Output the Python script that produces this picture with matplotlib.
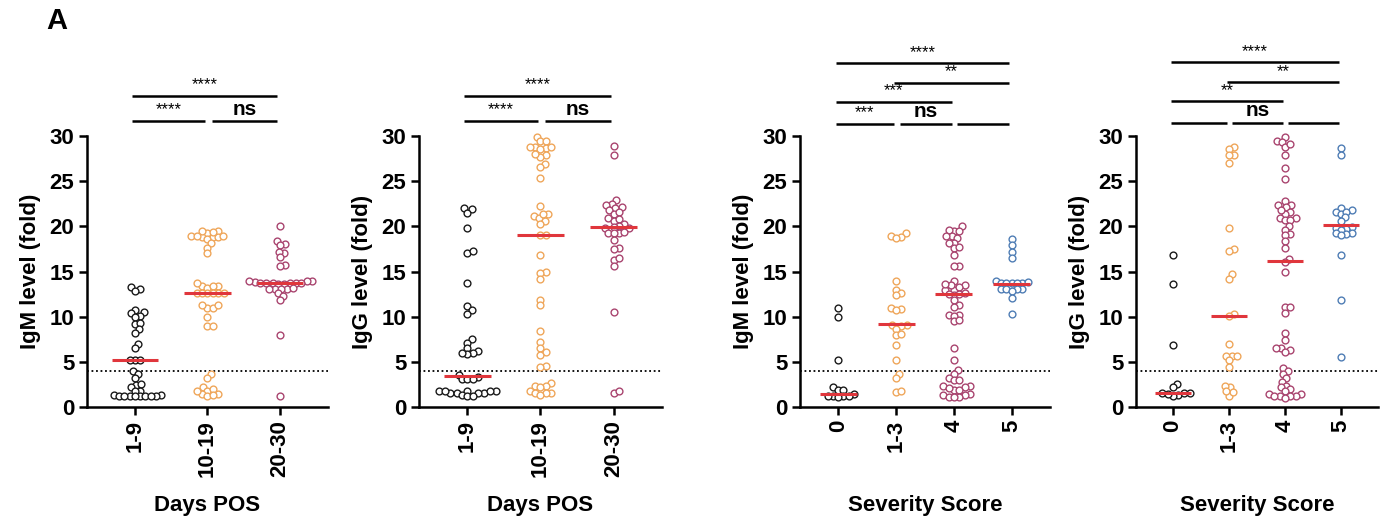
import numpy as np
import matplotlib
matplotlib.use("Agg")
import matplotlib.pyplot as plt

plt.rcParams['font.family'] = ['Liberation Sans', 'DejaVu Sans']

# ---- data ----
days_groups = ["1-9", "10-19", "20-30"]
sev_groups = ["0", "1-3", "4", "5"]

igm_days_1_9 = [13.1, 13.3, 12.9, 10.8, 10.5, 10.1, 10.4, 10.0, 9.2, 9.3, 8.6, 8.2, 7.0, 6.5,
                5.2, 5.2, 5.2, 4.0, 3.7, 3.2, 2.5, 2.6, 2.2, 1.8, 1.8, 1.2, 1.4, 1.3, 1.4, 1.2,
                1.3, 1.2, 1.2, 1.2, 1.3]
igm_days_10_19 = [19.5, 19.3, 18.8, 18.8, 18.8, 19.5, 18.9, 18.9, 18.9, 19.4, 18.6, 18.1, 17.6, 17.0,
                  13.4, 13.2, 13.4, 13.7, 13.4, 12.6, 12.6, 12.6, 12.6, 12.6, 12.6, 11.0, 11.0, 11.3,
                  11.3, 10.0, 9.0, 9.0, 3.7, 3.2, 2.2, 1.8, 1.5, 1.8, 1.2, 1.5, 2.0, 1.4]
igm_days_20_30 = [20.0, 18.4, 18.0, 17.9, 17.0, 17.2, 16.6, 15.7, 15.6, 14.0, 13.7, 13.8, 13.9, 13.7,
                  13.7, 13.7, 13.6, 14.0, 13.7, 13.6, 13.7, 13.1, 13.1, 13.1, 13.2, 13.1, 12.6, 12.3,
                  11.8, 8.0, 1.3]

igg_days_1_9 = [21.9, 22.0, 21.5, 19.8, 17.0, 17.3, 13.7, 11.2, 10.7, 10.3, 7.5, 7.1, 6.5, 6.2, 6.0,
                5.9, 6.0, 3.6, 3.4, 3.1, 3.1, 3.1, 1.8, 1.6, 1.8, 1.6, 1.8, 1.6, 1.6, 1.8, 1.8, 1.4,
                1.2, 1.3]
igg_days_10_19 = [29.9, 29.4, 29.4, 28.8, 28.6, 28.8, 28.8, 28.5, 27.9, 27.7, 28.0, 26.9, 26.5, 25.3,
                  22.2, 21.4, 21.1, 20.9, 21.4, 20.6, 20.2, 19.0, 19.0, 16.8, 15.0, 14.8, 14.2, 11.9,
                  11.3, 8.4, 7.2, 6.6, 6.1, 5.8, 4.6, 4.4, 2.7, 2.4, 2.4, 2.2, 1.6, 1.8, 1.6, 1.6, 1.4]
igg_days_20_30 = [28.9, 27.9, 22.9, 22.1, 22.5, 22.3, 22.0, 21.8, 21.4, 21.6, 20.9, 20.6, 20.8, 20.2,
                  20.0, 19.8, 19.8, 19.9, 19.3, 19.3, 19.3, 19.4, 18.5, 17.6, 17.5, 16.3, 16.5, 15.6,
                  10.5, 1.6, 1.8]

igm_sev_0 = [11.0, 10.0, 5.2, 2.2, 1.9, 1.9, 1.3, 1.5, 1.3, 1.3, 1.1, 1.3]
igm_sev_1_3 = [19.2, 18.9, 18.8, 18.7, 14.0, 13.0, 12.6, 12.4, 11.0, 10.9, 10.7, 9.1, 9.1, 9.0, 8.7,
               8.0, 8.1, 6.9, 5.2, 3.7, 3.2, 1.7, 1.8]
igm_sev_4 = [20.0, 19.5, 19.5, 19.6, 18.9, 18.7, 18.9, 18.2, 18.2, 17.6, 17.7, 16.8, 15.6, 15.6,
             14.0, 13.5, 13.0, 13.5, 13.3, 13.0, 13.6, 12.4, 12.5, 12.5, 12.6, 11.8, 11.3, 11.1,
             10.2, 10.2, 10.1, 9.5, 9.6, 6.5, 5.2, 4.1, 3.7, 3.2, 3.0, 3.0, 2.4, 2.4, 2.2, 1.9,
             1.9, 2.1, 1.5, 1.4, 1.4, 1.1, 1.1, 1.1]
igm_sev_5 = [18.6, 17.9, 17.2, 16.5, 13.7, 13.7, 13.9, 13.7, 13.7, 13.7, 13.8, 13.1, 13.1, 13.1,
             13.1, 12.8, 12.1, 10.3]

igg_sev_0 = [16.8, 13.6, 6.9, 2.6, 2.2, 1.4, 1.6, 1.6, 1.6, 1.3, 1.5]
igg_sev_1_3 = [28.7, 28.5, 27.9, 27.9, 27.0, 19.8, 17.5, 17.3, 14.7, 14.2, 10.3, 10.1, 7.0, 5.7, 5.7,
               5.2, 5.7, 4.5, 2.2, 2.4, 1.3, 1.7, 1.8]
igg_sev_4 = [29.9, 29.4, 29.3, 28.8, 29.1, 27.9, 26.4, 25.2, 22.8, 22.3, 22.1, 22.3, 21.6, 21.4,
             21.8, 20.9, 20.9, 20.7, 20.7, 20.0, 19.6, 19.1, 19.0, 18.4, 17.6, 16.4, 16.0, 14.9,
             11.1, 11.1, 10.4, 8.2, 7.4, 6.5, 6.3, 6.6, 6.1, 4.3, 4.0, 3.7, 3.2, 2.8, 2.4, 2.2,
             2.0, 1.8, 1.5, 1.5, 1.3, 1.3, 1.3, 1.3, 1.0]
igg_sev_5 = [28.6, 27.9, 22.0, 21.6, 21.8, 21.4, 21.6, 21.0, 20.6, 19.9, 19.7, 19.8, 19.6, 19.2,
             19.2, 19.1, 19.0, 16.8, 11.8, 5.6]

igm_days_median = [5.2, 12.6, 13.7]
igg_days_median = [3.5, 19.0, 19.9]
igm_sev_median = [1.5, 9.2, 12.5, 13.6]
igg_sev_median = [1.6, 10.1, 16.2, 20.1]

cutoff = 4

# comparisons: (group i, group j, label, bracket level)
cmp_days_igm = [(0, 1, "****", 31.6), (1, 2, "ns", 31.6), (0, 2, "****", 34.4)]
cmp_days_igg = [(0, 1, "****", 31.6), (1, 2, "ns", 31.6), (0, 2, "****", 34.4)]
cmp_sev_igm = [(0, 1, "***", 31.3), (1, 2, "ns", 31.3), (2, 3, "", 31.3),
               (0, 2, "***", 33.7), (1, 3, "**", 35.8), (0, 3, "****", 38.0)]
cmp_sev_igg = [(0, 1, "", 31.4), (1, 2, "ns", 31.4), (2, 3, "", 31.4),
               (0, 2, "**", 33.8), (1, 3, "**", 35.9), (0, 3, "****", 38.1)]

black = "#1a1a1a"
orange = "#EFA65A"
purple = "#A9456F"
blue = "#4F7DB5"
red = "#E0363C"

panels = [
    dict(rect=[0.0628, 0.2137, 0.174, 0.5243], groups=days_groups,
         data=[igm_days_1_9, igm_days_10_19, igm_days_20_30], med=igm_days_median,
         colors=[black, orange, purple], ylabel="IgM level (fold)", xlabel="Days POS",
         cmp=cmp_days_igm),
    dict(rect=[0.3025, 0.2137, 0.1755, 0.5243], groups=days_groups,
         data=[igg_days_1_9, igg_days_10_19, igg_days_20_30], med=igg_days_median,
         colors=[black, orange, purple], ylabel="IgG level (fold)", xlabel="Days POS",
         cmp=cmp_days_igg),
    dict(rect=[0.5776, 0.2137, 0.1805, 0.5243], groups=sev_groups,
         data=[igm_sev_0, igm_sev_1_3, igm_sev_4, igm_sev_5], med=igm_sev_median,
         colors=[black, orange, purple, blue], ylabel="IgM level (fold)", xlabel="Severity Score",
         cmp=cmp_sev_igm),
    dict(rect=[0.8202, 0.2137, 0.1748, 0.5243], groups=sev_groups,
         data=[igg_sev_0, igg_sev_1_3, igg_sev_4, igg_sev_5], med=igg_sev_median,
         colors=[black, orange, purple, blue], ylabel="IgG level (fold)", xlabel="Severity Score",
         cmp=cmp_sev_igg),
]


def swarm_x(ax, xpos, vals, d):
    # simple beeswarm in pixel space
    tr = ax.transData
    pts = tr.transform(np.column_stack([np.full(len(vals), xpos), vals]))
    xc = pts[0, 0]
    ys = pts[:, 1]
    offs = np.zeros(len(vals))
    placed = []
    cands = [0.0]
    for s in range(1, 80):
        cands += [s * d * 0.2, -s * d * 0.2]
    for k in np.argsort(ys):
        for c in cands:
            ok = True
            for (px, py) in placed:
                if (px - c) ** 2 + (py - ys[k]) ** 2 < d ** 2:
                    ok = False
                    break
            if ok:
                offs[k] = c
                placed.append((c, ys[k]))
                break
    inv = tr.inverted()
    return inv.transform(np.column_stack([xc + offs, ys]))[:, 0]


fig = plt.figure(figsize=(13.85, 5.18), dpi=100)

for p in panels:
    ax = fig.add_axes(p["rect"])
    n = len(p["groups"])
    ax.set_xlim(-0.66, n - 1 + 0.66)
    ax.set_ylim(0, 30)
    for i, vals in enumerate(p["data"]):
        xs = swarm_x(ax, i, vals, 5.3)
        ax.scatter(xs, vals, s=24, facecolors="white", edgecolors=p["colors"][i],
                   linewidths=1.0, zorder=3, clip_on=False)
        ax.plot([i - 0.32, i + 0.32], [p["med"][i], p["med"][i]], color=red, lw=2.2,
                zorder=4, solid_capstyle="butt")
    ax.axhline(cutoff, color="black", ls=(0, (1, 1.5)), lw=1.3, zorder=2)

    for sp in ["top", "right"]:
        ax.spines[sp].set_visible(False)
    for sp in ["left", "bottom"]:
        ax.spines[sp].set_linewidth(1.8)
    ax.set_yticks([0, 5, 10, 15, 20, 25, 30])
    ax.set_xticks(range(n))
    ax.set_xticklabels(p["groups"], rotation=90)
    ax.tick_params(axis="both", width=1.8, length=6, labelsize=16, pad=3)
    for t in ax.get_xticklabels() + ax.get_yticklabels():
        t.set_fontweight("bold")
    ax.set_ylabel(p["ylabel"], fontsize=16, fontweight="bold", labelpad=6)
    ax.set_xlabel(p["xlabel"], fontsize=16, fontweight="bold", va="center")
    ax.xaxis.set_label_coords(0.5, -0.36)

    # significance brackets
    for (i, j, lab, lev) in p["cmp"]:
        x0 = i - 0.04
        for (a, b, l2, lv2) in p["cmp"]:
            if lv2 == lev and b == i:
                x0 = i + 0.06
        x1 = j - 0.04
        ax.plot([x0, x1], [lev, lev], color="black", lw=1.8, clip_on=False,
                solid_capstyle="butt")
        if lab:
            if lab == "ns":
                ax.text((x0 + x1) / 2, lev + 0.3, lab, ha="center", va="bottom",
                        fontsize=15, fontweight="bold")
            else:
                ax.text((x0 + x1) / 2, lev + 0.4, lab, ha="center", va="bottom",
                        fontsize=12)

fig.text(0.041, 0.96, "A", fontsize=21, fontweight="bold", ha="center", va="center")

fig.savefig("out.png", dpi=100)
